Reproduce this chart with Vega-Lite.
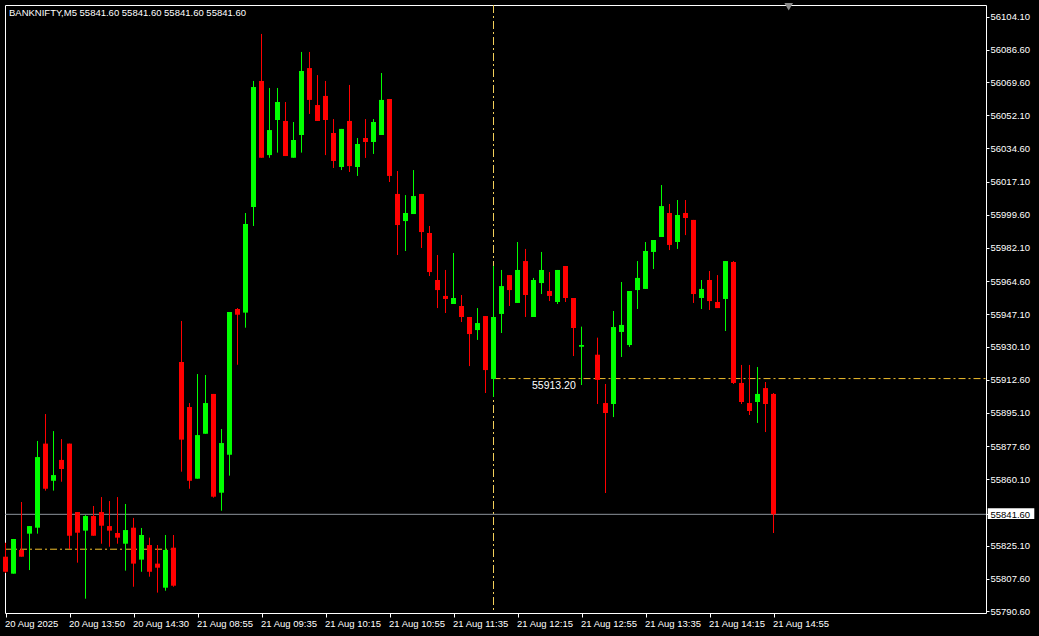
{
  "$schema": "https://vega.github.io/schema/vega-lite/v6.json",
  "width": 981,
  "height": 608,
  "autosize": "none",
  "padding": {"left": 5, "top": 5, "right": 53, "bottom": 23},
  "background": "#000000",
  "config": {
    "view": {"stroke": "#ffffff", "strokeWidth": 1},
    "scale": {"continuousPadding": 0},
    "axis": {"domain": false, "grid": false, "labelColor": "#ffffff", "labelFont": "Liberation Sans", "labelFontSize": 9.5, "tickColor": "#ffffff", "tickWidth": 1, "labelOverlap": false, "labelSeparation": 0}
  },
  "datasets": {
    "bars": [
      {"i":0,"o":55819.25,"h":55826.6,"l":55810.65,"c":55811.3},
      {"i":1,"o":55810.3,"h":55828.6,"l":55810.3,"c":55828.6},
      {"i":2,"o":55822.8,"h":55848.1,"l":55819.25,"c":55819.25},
      {"i":3,"o":55831.4,"h":55835.4,"l":55812.2,"c":55835.4},
      {"i":4,"o":55834.55,"h":55880.3,"l":55831.4,"c":55871.8},
      {"i":5,"o":55878.9,"h":55894.5,"l":55854.1,"c":55855.1},
      {"i":6,"o":55859.3,"h":55885.5,"l":55854.1,"c":55862.3},
      {"i":7,"o":55870.3,"h":55881.3,"l":55858.8,"c":55865.5},
      {"i":8,"o":55878.9,"h":55878.9,"l":55823.3,"c":55830.3},
      {"i":9,"o":55842.8,"h":55842.8,"l":55816.1,"c":55831.9},
      {"i":10,"o":55833.0,"h":55841.2,"l":55797.1,"c":55840.7},
      {"i":11,"o":55840.7,"h":55846.0,"l":55830.3,"c":55830.3},
      {"i":12,"o":55842.8,"h":55850.7,"l":55826.1,"c":55835.6},
      {"i":13,"o":55835.4,"h":55848.6,"l":55824.5,"c":55833.0},
      {"i":14,"o":55831.75,"h":55850.7,"l":55826.1,"c":55829.3},
      {"i":15,"o":55826.1,"h":55847.05,"l":55811.9,"c":55833.3},
      {"i":16,"o":55834.55,"h":55839.7,"l":55803.4,"c":55815.6},
      {"i":17,"o":55817.7,"h":55834.4,"l":55811.3,"c":55830.7},
      {"i":18,"o":55825.4,"h":55829.3,"l":55808.7,"c":55811.3},
      {"i":19,"o":55815.6,"h":55825.4,"l":55800.3,"c":55813.45},
      {"i":20,"o":55802.9,"h":55830.7,"l":55801.3,"c":55822.8},
      {"i":21,"o":55824.0,"h":55830.7,"l":55803.4,"c":55803.95},
      {"i":22,"o":55921.95,"h":55943.6,"l":55864.1,"c":55881.0},
      {"i":23,"o":55898.2,"h":55900.3,"l":55855.1,"c":55859.3},
      {"i":24,"o":55860.4,"h":55915.6,"l":55860.4,"c":55883.4},
      {"i":25,"o":55884.1,"h":55915.1,"l":55884.1,"c":55900.3},
      {"i":26,"o":55905.1,"h":55905.1,"l":55850.4,"c":55850.9},
      {"i":27,"o":55853.0,"h":55886.6,"l":55843.5,"c":55879.2},
      {"i":28,"o":55873.05,"h":55948.3,"l":55862.0,"c":55948.3},
      {"i":29,"o":55949.9,"h":55950.4,"l":55920.5,"c":55946.9},
      {"i":30,"o":55948.0,"h":56000.55,"l":55940.05,"c":55994.75},
      {"i":31,"o":56003.7,"h":56070.2,"l":55993.7,"c":56067.0},
      {"i":32,"o":56070.2,"h":56095.0,"l":56029.7,"c":56029.7},
      {"i":33,"o":56031.1,"h":56066.5,"l":56029.7,"c":56044.3},
      {"i":34,"o":56049.6,"h":56066.5,"l":56032.4,"c":56059.1},
      {"i":35,"o":56049.1,"h":56059.1,"l":56030.6,"c":56030.6},
      {"i":36,"o":56029.7,"h":56048.55,"l":56029.7,"c":56039.06},
      {"i":37,"o":56041.7,"h":56085.5,"l":56032.4,"c":56075.45},
      {"i":38,"o":56077.0,"h":56085.5,"l":56052.8,"c":56060.2},
      {"i":39,"o":56057.5,"h":56073.3,"l":56049.1,"c":56049.1},
      {"i":40,"o":56062.3,"h":56070.2,"l":56031.1,"c":56049.6},
      {"i":41,"o":56042.75,"h":56050.1,"l":56024.3,"c":56028.0},
      {"i":42,"o":56024.8,"h":56044.9,"l":56023.2,"c":56044.9},
      {"i":43,"o":56049.1,"h":56068.1,"l":56022.2,"c":56025.3},
      {"i":44,"o":56024.8,"h":56040.1,"l":56020.1,"c":56036.95},
      {"i":45,"o":56040.1,"h":56050.1,"l":56029.6,"c":56038.0},
      {"i":46,"o":56038.0,"h":56050.1,"l":56031.7,"c":56048.55},
      {"i":47,"o":56041.7,"h":56074.4,"l":56041.7,"c":56060.2},
      {"i":48,"o":56060.7,"h":56060.7,"l":56016.9,"c":56020.1},
      {"i":49,"o":56010.6,"h":56022.7,"l":55978.4,"c":55994.2},
      {"i":50,"o":55996.3,"h":56010.0,"l":55980.5,"c":56000.55},
      {"i":51,"o":56000.0,"h":56023.2,"l":56000.0,"c":56009.5},
      {"i":52,"o":56010.6,"h":56010.6,"l":55982.1,"c":55990.5},
      {"i":53,"o":55990.0,"h":55993.7,"l":55967.3,"c":55969.4},
      {"i":54,"o":55965.2,"h":55978.4,"l":55950.4,"c":55959.9},
      {"i":55,"o":55956.8,"h":55970.5,"l":55947.8,"c":55955.2},
      {"i":56,"o":55952.55,"h":55979.45,"l":55952.55,"c":55955.7},
      {"i":57,"o":55951.5,"h":55957.3,"l":55943.05,"c":55945.7},
      {"i":58,"o":55945.7,"h":55945.7,"l":55919.8,"c":55936.7},
      {"i":59,"o":55938.8,"h":55950.4,"l":55933.6,"c":55942.5},
      {"i":60,"o":55946.2,"h":55946.2,"l":55905.6,"c":55917.7},
      {"i":61,"o":55913.0,"h":55972.6,"l":55903.5,"c":55945.7},
      {"i":62,"o":55947.3,"h":55970.5,"l":55937.25,"c":55962.0},
      {"i":63,"o":55967.8,"h":55967.8,"l":55951.5,"c":55959.9},
      {"i":64,"o":55953.1,"h":55985.25,"l":55953.1,"c":55970.5},
      {"i":65,"o":55975.2,"h":55981.6,"l":55945.7,"c":55957.3},
      {"i":66,"o":55945.7,"h":55966.3,"l":55945.7,"c":55965.2},
      {"i":67,"o":55963.6,"h":55980.0,"l":55957.8,"c":55970.5},
      {"i":68,"o":55959.4,"h":55969.4,"l":55954.1,"c":55956.8},
      {"i":69,"o":55953.6,"h":55970.5,"l":55952.55,"c":55970.5},
      {"i":70,"o":55972.6,"h":55972.6,"l":55953.6,"c":55955.7},
      {"i":71,"o":55955.7,"h":55955.7,"l":55925.1,"c":55939.9},
      {"i":72,"o":55930.0,"h":55940.6,"l":55909.8,"c":55930.9},
      {"i":74,"o":55925.8,"h":55934.8,"l":55899.8,"c":55912.5},
      {"i":75,"o":55900.3,"h":55910.35,"l":55852.85,"c":55895.05},
      {"i":76,"o":55899.8,"h":55948.85,"l":55892.9,"c":55940.4},
      {"i":77,"o":55937.8,"h":55964.15,"l":55924.6,"c":55941.5},
      {"i":78,"o":55930.9,"h":55959.4,"l":55929.9,"c":55959.4},
      {"i":79,"o":55959.9,"h":55975.2,"l":55949.9,"c":55966.3},
      {"i":80,"o":55960.5,"h":55985.25,"l":55960.5,"c":55980.5},
      {"i":81,"o":55980.0,"h":55986.3,"l":55971.0,"c":55986.3},
      {"i":82,"o":55987.9,"h":56015.3,"l":55987.9,"c":56004.2},
      {"i":83,"o":56000.55,"h":56005.3,"l":55981.0,"c":55983.7},
      {"i":84,"o":55985.25,"h":56007.4,"l":55981.6,"c":55999.5},
      {"i":85,"o":56000.55,"h":56007.4,"l":55988.9,"c":55997.9},
      {"i":86,"o":55996.9,"h":55996.9,"l":55953.1,"c":55957.8},
      {"i":87,"o":55955.7,"h":55965.2,"l":55949.9,"c":55960.5},
      {"i":88,"o":55965.2,"h":55969.95,"l":55949.4,"c":55954.1},
      {"i":89,"o":55953.6,"h":55967.8,"l":55950.4,"c":55950.4},
      {"i":90,"o":55955.2,"h":55975.2,"l":55938.3,"c":55975.2},
      {"i":91,"o":55974.7,"h":55975.2,"l":55910.35,"c":55910.9},
      {"i":92,"o":55910.9,"h":55920.4,"l":55899.8,"c":55900.85},
      {"i":93,"o":55900.3,"h":55920.4,"l":55894.0,"c":55896.1},
      {"i":94,"o":55900.85,"h":55919.3,"l":55889.8,"c":55905.1},
      {"i":95,"o":55908.2,"h":55911.4,"l":55885.0,"c":55899.8},
      {"i":96,"o":55905.1,"h":55905.6,"l":55831.75,"c":55841.6}
    ]
  },
  "layer": [
    {
      "data": {"values": [{"a": -0.06, "b": 20.6, "p": 55823.2}, {"a": 61, "b": 122.56, "p": 55913.2}]},
      "mark": {"type": "rule", "color": "#f2c12e", "strokeWidth": 1, "strokeDash": [7, 3, 2, 3]},
      "encoding": {
        "x": {"field": "a", "type": "quantitative", "title": null, "scale": {"domain": [-0.0625, 122.5625], "nice": false, "zero": false, "padding": 0}},
        "x2": {"field": "b"},
        "y": {"field": "p", "type": "quantitative", "title": null, "scale": {"domain": [55789.55, 56110.27], "nice": false, "zero": false}}
      }
    },
    {
      "data": {"values": [{"t": 61}]},
      "mark": {"type": "rule", "color": "#f2cf5a", "strokeWidth": 1, "strokeDash": [8, 3, 2, 3]},
      "encoding": {
        "x": {"field": "t", "type": "quantitative", "title": null}
      }
    },
    {
      "data": {"values": [{"bid": 55841.6}]},
      "mark": {"type": "rule", "color": "#8c939b", "strokeWidth": 1},
      "encoding": {
        "y": {"field": "bid", "type": "quantitative", "title": null}
      }
    },
    {
      "data": {"values": [{"a": 122.78, "b": 128.6, "p1": 55844.8, "p2": 55839.1}]},
      "mark": {"type": "rect", "color": "#ffffff", "clip": false},
      "encoding": {
        "x": {"field": "a", "type": "quantitative", "title": null},
        "x2": {"field": "b"},
        "y": {"field": "p1", "type": "quantitative", "title": null},
        "y2": {"field": "p2"}
      }
    },
    {
      "data": {"name": "bars"},
      "mark": {"type": "rule", "strokeWidth": 1},
      "encoding": {
        "x": {"field": "i", "type": "quantitative", "title": null, "scale": {"domain": [-0.0625, 122.5625], "nice": false, "zero": false, "padding": 0},
          "axis": {"orient": "bottom", "values": [0, 8, 16, 24, 32, 40, 48, 56, 64, 72, 80, 88, 96], "tickCount": 40,
            "labelExpr": "['20 Aug 2025','20 Aug 13:50','20 Aug 14:30','21 Aug 08:55','21 Aug 09:35','21 Aug 10:15','21 Aug 10:55','21 Aug 11:35','21 Aug 12:15','21 Aug 12:55','21 Aug 13:35','21 Aug 14:15','21 Aug 14:55'][round(datum.value/8)]",
            "tickSize": 4, "labelPadding": 1, "labelAlign": "left", "labelBaseline": "top", "labelOverlap": false, "labelFlush": false, "labelOffset": -1}},
        "y": {"field": "l", "type": "quantitative", "title": null, "scale": {"domain": [55789.55, 56110.27], "nice": false, "zero": false},
          "axis": {"orient": "right", "values": [56104.1, 56086.6, 56069.6, 56052.1, 56034.6, 56017.1, 55999.6, 55982.1, 55964.6, 55947.1, 55930.1, 55912.6, 55895.1, 55877.6, 55860.1, 55841.6, 55825.1, 55807.6, 55790.6], "tickCount": 40,
            "format": ".2f", "tickSize": 3, "labelPadding": 1, "labelAlign": "left", "labelBaseline": "middle", "labelOverlap": false, "labelFlush": false, "zindex": 1,
            "labelColor": {"condition": {"test": "datum.value === 55841.6", "value": "#000000"}, "value": "#ffffff"}}},
        "y2": {"field": "h"},
        "color": {"condition": {"test": "datum.c >= datum.o", "value": "#00ff00"}, "value": "#ff0000"}
      }
    },
    {
      "data": {"name": "bars"},
      "mark": {"type": "bar", "size": 5},
      "encoding": {
        "x": {"field": "i", "type": "quantitative", "title": null},
        "y": {"field": "o", "type": "quantitative", "title": null},
        "y2": {"field": "c"},
        "color": {"condition": {"test": "datum.c >= datum.o", "value": "#00ff00"}, "value": "#ff0000"}
      }
    },
    {
      "data": {"values": [{"t": 61, "p": 55913.2, "label": "55913.20"}]},
      "mark": {"type": "text", "align": "left", "baseline": "middle", "dx": 38.5, "dy": 7, "font": "Liberation Sans", "fontSize": 10.5, "color": "#ffffff"},
      "encoding": {
        "x": {"field": "t", "type": "quantitative", "title": null},
        "y": {"field": "p", "type": "quantitative", "title": null},
        "text": {"field": "label"}
      }
    },
    {
      "data": {"values": [{"t": -0.0625, "p": 56110.27, "label": "BANKNIFTY,M5  55841.60 55841.60 55841.60 55841.60"}]},
      "mark": {"type": "text", "align": "left", "baseline": "alphabetic", "dx": 4, "dy": 11, "font": "Liberation Sans", "fontSize": 9.5, "color": "#ffffff"},
      "encoding": {
        "x": {"field": "t", "type": "quantitative", "title": null},
        "y": {"field": "p", "type": "quantitative", "title": null},
        "text": {"field": "label"}
      }
    },
    {
      "data": {"values": [{"t": 97.9, "p": 56109.4}]},
      "mark": {"type": "point", "shape": "triangle-down", "filled": true, "size": 75, "color": "#8a8a8a", "opacity": 1},
      "encoding": {
        "x": {"field": "t", "type": "quantitative", "title": null},
        "y": {"field": "p", "type": "quantitative", "title": null}
      }
    }
  ]
}
